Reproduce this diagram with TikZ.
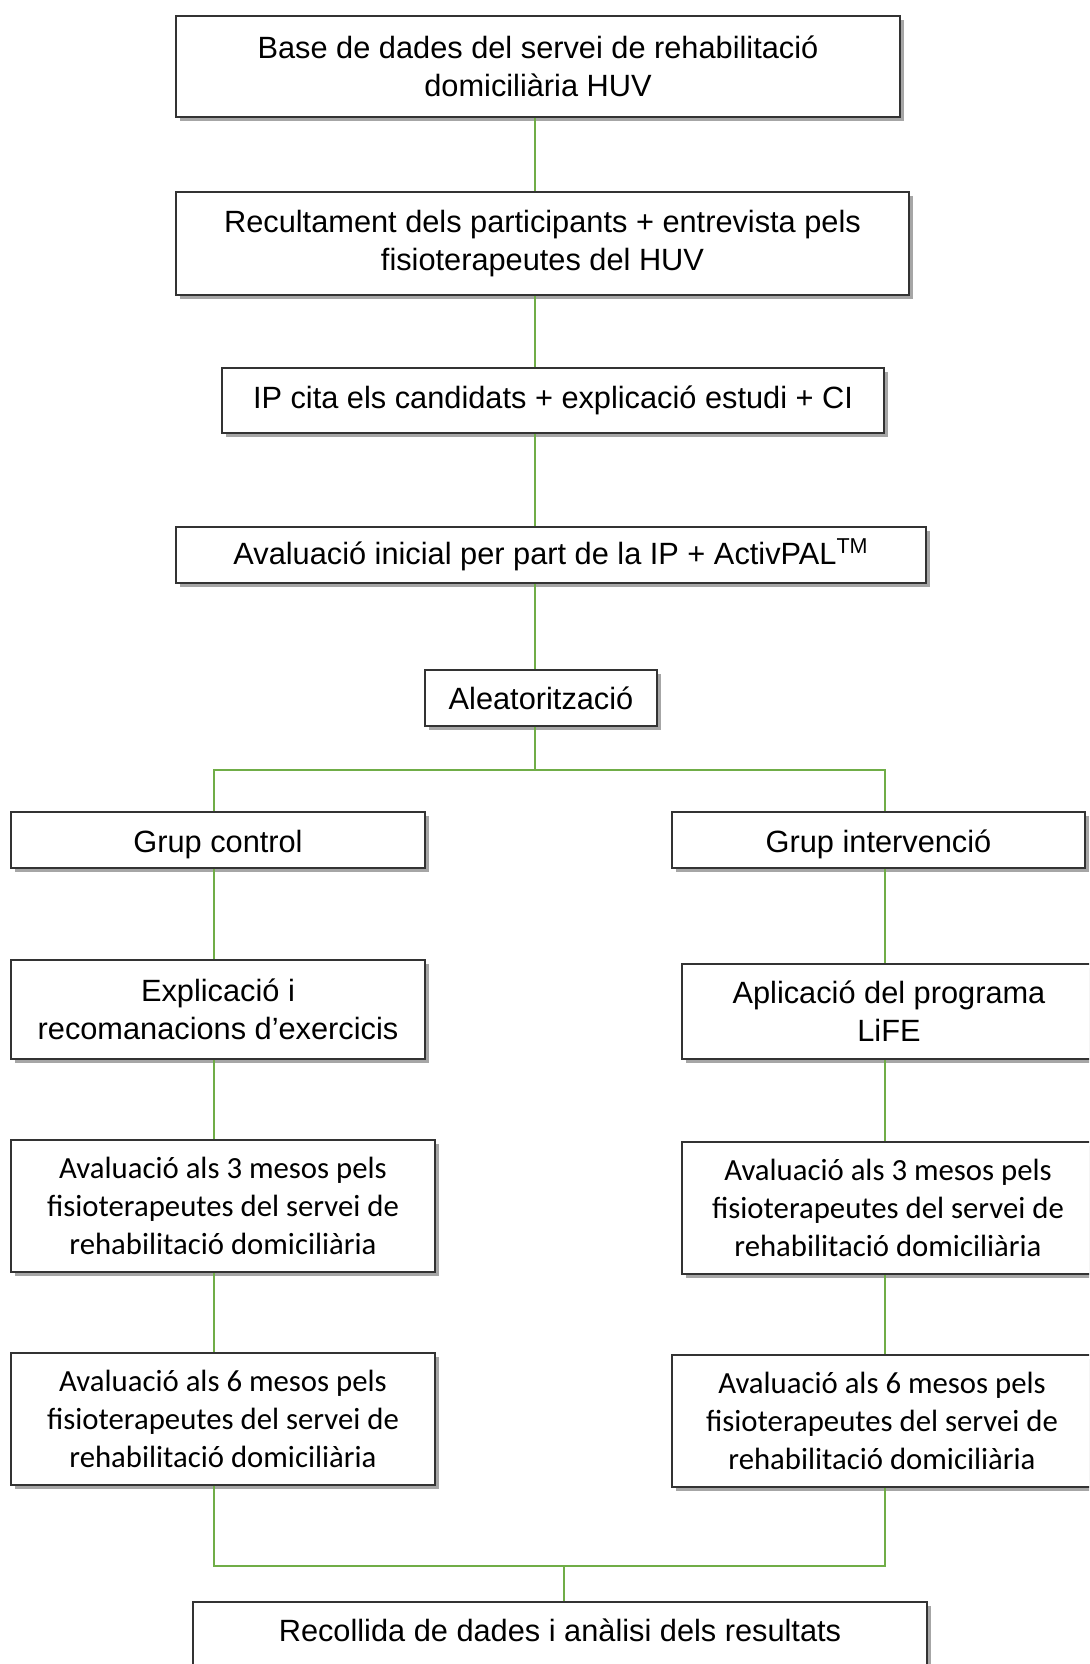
\documentclass[tikz,border=0pt]{standalone}
\usepackage{fontspec}
\setmainfont{Liberation Sans}
\newfontfamily\evalfont{Carlito}
\usepackage{xcolor}
\usetikzlibrary{positioning, shadows, calc}

\definecolor{linkgreen}{RGB}{112,173,71}

\begin{document}
\begin{tikzpicture}[
    box/.style={draw=black!80, line width=0.9pt, fill=white, align=center, inner sep=0pt,
        font=\fontsize{17.5}{21.5}\selectfont,
        drop shadow={shadow xshift=2.5pt, shadow yshift=-2.5pt, fill=black, opacity=0.35}},
    evalbox/.style={box, font=\evalfont\fontsize{17.5}{21.4}\selectfont},
    link/.style={draw=linkgreen, line width=0.85pt}]
                \useasboundingbox (0,0) rectangle (21.78,-33.28);
                \clip (0,0) rectangle (21.78,-33.28);

                % main column
                \node [box, minimum width=14.48cm, minimum height=2.02cm] (base) at (10.76,-1.33)
                    {Base de dades del servei de rehabilitació\\domiciliària HUV};
                \node [box, minimum width=14.66cm, minimum height=2.06cm] (recruit) at (10.85,-4.87)
                    {Recultament dels participants + entrevista pels\\fisioterapeutes del HUV};
                \node [box, minimum width=13.24cm, minimum height=1.3cm] (cita) at (11.06,-8.01)
                    {IP cita els candidats + explicació estudi + CI};
                \node [box, minimum width=15cm, minimum height=1.12cm] (inicial) at (11.02,-11.1)
                    {Avaluació inicial per part de la IP + ActivPAL\textsuperscript{TM}};
                \node [box, minimum width=4.64cm, minimum height=1.12cm] (aleat) at (10.82,-13.96)
                    {Aleatorització};

                % control group
                \node [box, minimum width=8.28cm, minimum height=1.12cm, text height=0.62cm, text depth=0.12cm] (control) at (4.36,-16.8)
                    {Grup control};
                \node [box, minimum width=8.28cm, minimum height=1.98cm] (explic) at (4.36,-20.19)
                    {Explicació i\\recomanacions d'exercicis};
                \node [evalbox, minimum width=8.48cm, minimum height=2.64cm] (av3L) at (4.46,-24.12)
                    {Avaluació als 3 mesos pels\\fisioterapeutes del servei de\\rehabilitació domiciliària};
                \node [evalbox, minimum width=8.48cm, minimum height=2.64cm] (av6L) at (4.46,-28.38)
                    {Avaluació als 6 mesos pels\\fisioterapeutes del servei de\\rehabilitació domiciliària};

                % intervention group
                \node [box, minimum width=8.26cm, minimum height=1.12cm, text height=0.62cm, text depth=0.12cm] (interv) at (17.57,-16.8)
                    {Grup intervenció};
                \node [box, minimum width=8.28cm, minimum height=1.9cm] (aplic) at (17.78,-20.23)
                    {Aplicació del programa\\LiFE};
                \node [evalbox, minimum width=8.24cm, minimum height=2.64cm] (av3R) at (17.76,-24.16)
                    {Avaluació als 3 mesos pels\\fisioterapeutes del servei de\\rehabilitació domiciliària};
                \node [evalbox, minimum width=8.4cm, minimum height=2.64cm] (av6R) at (17.64,-28.42)
                    {Avaluació als 6 mesos pels\\fisioterapeutes del servei de\\rehabilitació domiciliària};

                \node [box, anchor=north, minimum width=14.68cm, text height=0.8cm, text depth=1.3cm] (result) at (11.2,-32.02)
                    {Recollida de dades i anàlisi dels resultats};

                % connectors
                \coordinate (spine) at (10.7,0);
                \coordinate (colL) at (4.28,0);
                \coordinate (colR) at (17.7,0);
                \coordinate (split) at (10.7,-15.4);
                \coordinate (merge) at (11.28,-31.32);

                \foreach \u/\v in {base/recruit, recruit/cita, cita/inicial, inicial/aleat}
                    \draw [link] (spine |- \u.south) -- (spine |- \v.north);
                \foreach \u/\v in {control/explic, explic/av3L, av3L/av6L}
                    \draw [link] (colL |- \u.south) -- (colL |- \v.north);
                \foreach \u/\v in {interv/aplic, aplic/av3R, av3R/av6R}
                    \draw [link] (colR |- \u.south) -- (colR |- \v.north);

                \draw [link] (spine |- aleat.south) -- (split);
                \draw [link] (colL |- control.north) |- (split) -| (colR |- interv.north);
                \draw [link] (colL |- av6L.south) |- (merge) -| (colR |- av6R.south);
                \draw [link] (merge) -- (merge |- result.north);
            \end{tikzpicture}
\end{document}
